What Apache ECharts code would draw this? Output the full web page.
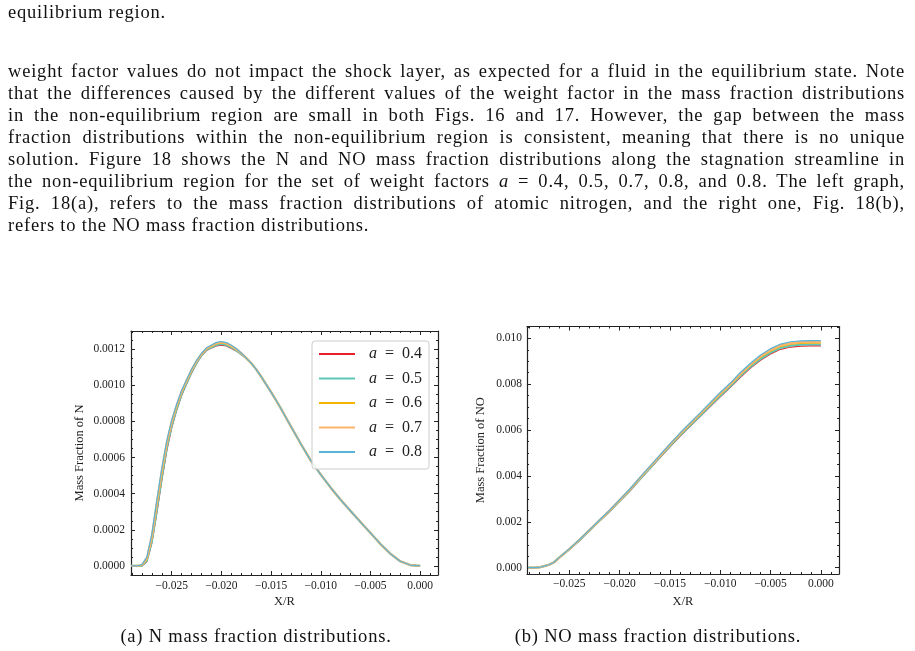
<!DOCTYPE html>
<html>
<head>
<meta charset="utf-8">
<script src="https://cdn.jsdelivr.net/npm/echarts@6.0.0/dist/echarts.min.js"></script>
<style>
  body { margin: 0; background: #fff; }
  #page { position: relative; width: 915px; height: 651px; overflow: hidden; }
  #chart { position: absolute; left: 0; top: 0; width: 915px; height: 651px; }
  .t { position: absolute; left: 8px; width: 897px; font-family: "Liberation Serif", serif; font-size: 18.5px; letter-spacing: 0.8px; line-height: 22px; color: #111; white-space: nowrap; }
  .j { text-align: justify; text-align-last: justify; white-space: normal; }
  .cap { position: absolute; font-family: "Liberation Serif", serif; font-size: 18.5px; letter-spacing: 0.8px; line-height: 22px; color: #111; white-space: nowrap; transform: translateX(-50%); }
</style>
</head>
<body>
<div id="page">
  <div id="chart"></div>
  <div class="t" style="top:1px">equilibrium region.</div>
  <div class="t j" style="top:60px">weight factor values do not impact the shock layer, as expected for a fluid in the equilibrium state. Note</div>
  <div class="t j" style="top:82px">that the differences caused by the different values of the weight factor in the mass fraction distributions</div>
  <div class="t j" style="top:104px">in the non-equilibrium region are small in both Figs. 16 and 17. However, the gap between the mass</div>
  <div class="t j" style="top:126px">fraction distributions within the non-equilibrium region is consistent, meaning that there is no unique</div>
  <div class="t j" style="top:148px">solution. Figure 18 shows the N and NO mass fraction distributions along the stagnation streamline in</div>
  <div class="t j" style="top:170px">the non-equilibrium region for the set of weight factors <i>a</i> = 0.4, 0.5, 0.7, 0.8, and 0.8. The left graph,</div>
  <div class="t j" style="top:192px">Fig. 18(a), refers to the mass fraction distributions of atomic nitrogen, and the right one, Fig. 18(b),</div>
  <div class="t" style="top:214px">refers to the NO mass fraction distributions.</div>
  <div class="cap" style="left:256px; top:625px">(a) N mass fraction distributions.</div>
  <div class="cap" style="left:658px; top:625px">(b) NO mass fraction distributions.</div>
</div>
<script>
// weight factors a
const names = ['a = 0.4', 'a = 0.5', 'a = 0.6', 'a = 0.7', 'a = 0.8'];
const colors = ['#e8202a', '#5cc7b8', '#f5b400', '#fbb36a', '#5ab4d8'];
const widths = [1.2, 2.2, 1.2, 2.2, 1.2];

// (a) mass fraction of N along X/R
const xN = [-0.0291, -0.0285, -0.0280, -0.0275, -0.0270, -0.0265, -0.0260, -0.0255, -0.0250, -0.0245,
  -0.0240, -0.0235, -0.0230, -0.0225, -0.0220, -0.0215, -0.0210, -0.0205, -0.0200, -0.0195,
  -0.0190, -0.0185, -0.0180, -0.0175, -0.0170, -0.0165, -0.0160, -0.0155, -0.0150, -0.0145,
  -0.0140, -0.0130, -0.0120, -0.0110, -0.0100, -0.0090, -0.0080, -0.0070, -0.0060, -0.0050,
  -0.0040, -0.0030, -0.0020, -0.0010, 0.0000];
const nA04 = [0, 0, 0, 0.000025, 0.000127, 0.000294, 0.000474, 0.000638, 0.000766, 0.000862,
  0.000944, 0.001008, 0.001068, 0.00112, 0.001162, 0.001192, 0.001206, 0.001217, 0.001222, 0.001217,
  0.001204, 0.00119, 0.00117, 0.00115, 0.001122, 0.001088, 0.001048, 0.001005, 0.000962, 0.000917,
  0.00087, 0.000772, 0.000675, 0.000583, 0.000505, 0.000433, 0.000366, 0.000304, 0.000243, 0.000183,
  0.000122, 0.000068, 0.000026, 0.000005, 0];
const nA05 = [0, 0, 0.000001, 0.00003, 0.000138, 0.000312, 0.000492, 0.000654, 0.000778, 0.000871,
  0.000952, 0.001014, 0.001074, 0.001125, 0.001166, 0.001196, 0.00121, 0.001223, 0.001228, 0.001223,
  0.001209, 0.001193, 0.001172, 0.00115, 0.001122, 0.001088, 0.001048, 0.001005, 0.000962, 0.000917,
  0.00087, 0.000772, 0.000675, 0.000583, 0.000505, 0.000433, 0.000366, 0.000304, 0.000243, 0.000183,
  0.000122, 0.000068, 0.000026, 0.000005, 0];
const nA06 = [0, 0, 0.000003, 0.000035, 0.00015, 0.00033, 0.00051, 0.00067, 0.00079, 0.00088,
  0.00096, 0.00102, 0.00108, 0.00113, 0.00117, 0.0012, 0.001215, 0.001228, 0.001234, 0.001228,
  0.001213, 0.001197, 0.001175, 0.00115, 0.001122, 0.001088, 0.001048, 0.001005, 0.000962, 0.000917,
  0.00087, 0.000772, 0.000675, 0.000583, 0.000505, 0.000433, 0.000366, 0.000304, 0.000243, 0.000183,
  0.000122, 0.000068, 0.000026, 0.000005, 0];
const nA07 = [0, 0, 0.000005, 0.000042, 0.000163, 0.000348, 0.000526, 0.000682, 0.000799, 0.000888,
  0.000966, 0.001026, 0.001085, 0.001134, 0.001173, 0.001203, 0.001219, 0.001232, 0.001238, 0.001232,
  0.001217, 0.0012, 0.001177, 0.00115, 0.001122, 0.001088, 0.001048, 0.001005, 0.000962, 0.000917,
  0.00087, 0.000772, 0.000675, 0.000583, 0.000505, 0.000433, 0.000366, 0.000304, 0.000243, 0.000183,
  0.000122, 0.000068, 0.000026, 0.000005, 0];
const nA08 = [0, 0, 0.000007, 0.00005, 0.000178, 0.000366, 0.000542, 0.000694, 0.000808, 0.000896,
  0.000972, 0.001032, 0.00109, 0.001138, 0.001177, 0.001207, 0.001223, 0.001237, 0.001242, 0.001236,
  0.001221, 0.001203, 0.001179, 0.00115, 0.001122, 0.001088, 0.001048, 0.001005, 0.000962, 0.000917,
  0.00087, 0.000772, 0.000675, 0.000583, 0.000505, 0.000433, 0.000366, 0.000304, 0.000243, 0.000183,
  0.000122, 0.000068, 0.000026, 0.000005, 0];

// (b) mass fraction of NO along X/R
const xNO = [-0.0291, -0.0285, -0.0280, -0.0275, -0.0270, -0.0265, -0.0260, -0.0255, -0.0250, -0.0240,
  -0.0230, -0.0220, -0.0210, -0.0200, -0.0190, -0.0180, -0.0170, -0.0160, -0.0150, -0.0140,
  -0.0130, -0.0120, -0.0110, -0.0100, -0.0090, -0.0080, -0.0070, -0.0060, -0.0050, -0.0040,
  -0.0030, -0.0020, -0.0010, 0.0000];
const noA04 = [0, 0, 0.00001, 0.00007, 0.00013, 0.00024, 0.00043, 0.00061, 0.00079, 0.00118,
  0.0016, 0.00203, 0.00244, 0.00289, 0.00333, 0.00383, 0.00431, 0.00479, 0.00527, 0.00573,
  0.00616, 0.00659, 0.00702, 0.00745, 0.00786, 0.0083, 0.0087, 0.00904, 0.00932, 0.00952,
  0.00962, 0.00966, 0.00967, 0.00967];
const noA05 = [0, 0, 0.00001, 0.00007, 0.00013, 0.00024, 0.00044, 0.00062, 0.0008, 0.00119,
  0.00162, 0.00205, 0.00246, 0.00291, 0.00336, 0.00385, 0.00434, 0.00482, 0.0053, 0.00577,
  0.0062, 0.00663, 0.00707, 0.0075, 0.00791, 0.00836, 0.00876, 0.0091, 0.00938, 0.00958,
  0.00968, 0.00972, 0.00973, 0.00973];
const noA06 = [0, 0, 0.00001, 0.00007, 0.00013, 0.00024, 0.00044, 0.00062, 0.00081, 0.0012,
  0.00163, 0.00206, 0.00248, 0.00293, 0.00338, 0.00388, 0.00437, 0.00485, 0.00534, 0.0058,
  0.00624, 0.00667, 0.00711, 0.00755, 0.00796, 0.00841, 0.00881, 0.00916, 0.00944, 0.00964,
  0.00974, 0.00978, 0.00979, 0.00979];
const noA07 = [0, 0, 0.00001, 0.00007, 0.00013, 0.00024, 0.00044, 0.00062, 0.00081, 0.00121,
  0.00164, 0.00207, 0.00249, 0.00295, 0.0034, 0.0039, 0.00439, 0.00487, 0.00537, 0.00583,
  0.00627, 0.0067, 0.00715, 0.00759, 0.008, 0.00845, 0.00885, 0.00921, 0.00949, 0.00969,
  0.00979, 0.00983, 0.00984, 0.00984];
const noA08 = [0, 0, 0.00001, 0.00007, 0.00013, 0.00025, 0.00045, 0.00063, 0.00082, 0.00122,
  0.00165, 0.00208, 0.00251, 0.00297, 0.00342, 0.00393, 0.00442, 0.00491, 0.0054, 0.00587,
  0.00631, 0.00675, 0.00719, 0.00764, 0.00805, 0.00851, 0.00891, 0.00927, 0.00955, 0.00975,
  0.00985, 0.00989, 0.0099, 0.0099];

// tick labels
const xTicks = [-0.025, -0.020, -0.015, -0.010, -0.005, 0.000];
const nTicks = [0.0000, 0.0002, 0.0004, 0.0006, 0.0008, 0.0010, 0.0012];
const noTicks = [0.000, 0.002, 0.004, 0.006, 0.008, 0.010];

const FONT = 'Liberation Serif';
const INK = '#222';

function steps(from, to, step) {
  const out = [];
  const n = Math.round((to - from) / step);
  for (let i = 0; i <= n; i++) out.push(+(from + i * step).toFixed(6));
  return out;
}
const xMinor = steps(-0.029, 0.001, 0.001);
const nMinor = steps(0, 0.00125, 0.00005);
const noMinor = steps(0, 0.0105, 0.0005);

const fmtX = v => (v < -1e-9 ? '\u2212' : '') + Math.abs(v).toFixed(3);

function frameAxes(kind, grid, min, max, major, minor, fmt, name, nameGap, labelMargin) {
  const isX = kind === 'x';
  const sides = isX ? ['bottom', 'top'] : ['left', 'right'];
  const axes = [];
  sides.forEach((pos, s) => {
    [major, minor].forEach((vals, m) => {
      const main = s === 0 && m === 0;
      axes.push({
        type: 'value',
        gridIndex: grid,
        position: pos,
        min: min,
        max: max,
        name: main ? name : '',
        nameLocation: 'middle',
        nameGap: nameGap,
        nameTextStyle: {fontFamily: FONT, fontSize: 12.5, color: INK},
        axisLine: {show: m === 0, onZero: false, lineStyle: {color: INK, width: 1.2}},
        axisTick: {show: true, inside: true, length: m === 0 ? 4 : 2, customValues: vals,
          lineStyle: {color: INK, width: 1}},
        axisLabel: main ? {show: true, customValues: vals, formatter: fmt, margin: labelMargin,
          fontFamily: FONT, fontSize: 11.5, color: INK} : {show: false},
        splitLine: {show: false},
        minorTick: {show: false}
      });
    });
  });
  return axes;
}

const chart = echarts.init(document.getElementById('chart'), null, {renderer: 'canvas'});

const seriesN = [nA04, nA05, nA06, nA07, nA08];
const seriesNO = [noA04, noA05, noA06, noA07, noA08];
const series = [];
seriesN.forEach((ys, i) => {
  series.push({
    name: names[i], type: 'line', xAxisIndex: 0, yAxisIndex: 0,
    data: xN.map((x, k) => [x, ys[k]]),
    symbol: 'none', smooth: false,
    lineStyle: {color: colors[i], width: widths[i]}, itemStyle: {color: colors[i]}
  });
});
seriesNO.forEach((ys, i) => {
  series.push({
    name: names[i], type: 'line', xAxisIndex: 4, yAxisIndex: 4,
    data: xNO.map((x, k) => [x, ys[k]]),
    symbol: 'none', smooth: false,
    lineStyle: {color: colors[i], width: widths[i]}, itemStyle: {color: colors[i]}
  });
});

const option = {
  animation: false,
  backgroundColor: 'transparent',
  grid: [
    {left: 131, top: 331, width: 307, height: 244},
    {left: 527, top: 326.5, width: 312, height: 247.5}
  ],
  xAxis: [
    ...frameAxes('x', 0, -0.0291, 0.0018, xTicks, xMinor, fmtX, 'X/R', 20, 5),
    ...frameAxes('x', 1, -0.0292, 0.0018, xTicks, xMinor, fmtX, 'X/R', 21, 4)
  ],
  yAxis: [
    ...frameAxes('y', 0, -0.00005, 0.0013, nTicks, nMinor, v => v.toFixed(4), 'Mass Fraction of N', 45, 6),
    ...frameAxes('y', 1, -0.000275, 0.010515, noTicks, noMinor, v => v.toFixed(3), 'Mass Fraction of NO', 40, 5)
  ],
  legend: {
    data: names,
    orient: 'vertical',
    left: 312,
    top: 341,
    padding: [5, 7, 9, 6],
    itemWidth: 36,
    itemHeight: 14,
    itemGap: 8.5,
    backgroundColor: 'rgba(255,255,255,0.85)',
    borderColor: '#cccccc',
    borderWidth: 1,
    borderRadius: 3,
    itemStyle: {opacity: 0},
    formatter: n => '{i|a}  =  ' + n.slice(4),
    textStyle: {
      fontFamily: FONT, fontSize: 16, color: INK, lineHeight: 14, padding: [0, 0, 0, 9],
      rich: {i: {fontFamily: FONT, fontStyle: 'italic', fontSize: 16, color: INK}}
    }
  },
  series: series
};
chart.setOption(option);
</script>
</body>
</html>
